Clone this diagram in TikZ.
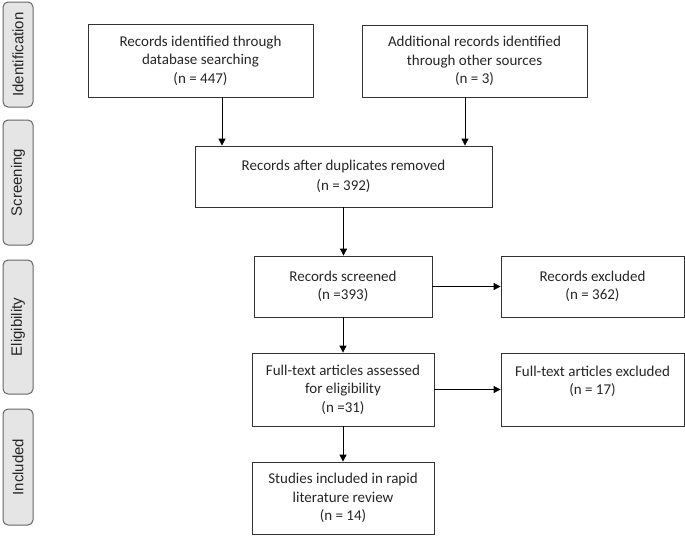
\documentclass[tikz,border=0pt]{standalone}
\usepackage{fontspec}
\setmainfont{Carlito}
\newfontfamily\sidefont{Liberation Sans}
\usetikzlibrary{arrows.meta}
\tikzset{
  flowbox/.style={draw=black!80, line width=0.8pt, inner sep=0pt, align=center, text=black!85,
    font=\fontsize{15}{18.5}\selectfont},
  sidebox/.style={draw=black!60, line width=1pt, fill=black!10, rounded corners=5pt, rotate=90,
    inner sep=0pt, minimum height=30pt, text=black!85, font=\sidefont\fontsize{15}{18}\selectfont},
  arr/.style={draw=black, line width=0.8pt, -{Triangle[length=7pt,width=7pt]}}
}
\begin{document}
\begin{tikzpicture}[x=1pt,y=-1pt]
\useasboundingbox (0,0) rectangle (685,536);
% phase labels
\node[sidebox, minimum width=105pt] (ident) at (18,54.5) {Identification};
\node[sidebox, minimum width=125pt] (screen) at (18,182.5) {Screening};
\node[sidebox, minimum width=134pt] (elig) at (18,327) {Eligibility};
\node[sidebox, minimum width=116pt] (incl) at (18,467) {Included};
% boxes
\node[flowbox, minimum width=225pt, minimum height=73pt] (db) at (200.5,60.5)
  {Records identified through\\database searching\\(n = 447)};
\node[flowbox, minimum width=225pt, minimum height=72pt] (other) at (474.5,61)
  {Additional records identified\\through other sources\\(n = 3)};
\node[flowbox, minimum width=297pt, minimum height=61pt] (dup) at (343.5,176.5)
  {Records after duplicates removed\\[1pt](n = 392)};
\node[flowbox, minimum width=178pt, minimum height=61pt] (scr) at (343,286.5)
  {Records screened\\(n =393)};
\node[flowbox, minimum width=183pt, minimum height=61pt] (exc1) at (592.5,286.5)
  {Records excluded\\(n = 362)};
\node[flowbox, minimum width=182pt, minimum height=73pt] (full) at (343,389.5)
  {Full-text articles assessed\\for eligibility\\(n =31)};
\node[flowbox, minimum width=183pt, minimum height=73pt] (exc2) at (592.5,389.5)
  {Full-text articles excluded\\(n = 17)\\\mbox{}};
\node[flowbox, minimum width=182pt, minimum height=72pt] (stud) at (343,498)
  {Studies included in rapid\\literature review\\(n = 14)};
% connectors
\draw[arr] ([xshift=21.5pt]db.south) -- ([xshift=21.5pt]db.south |- dup.north);
\draw[arr] ([xshift=-9.5pt]other.south) -- ([xshift=-9.5pt]other.south |- dup.north);
\draw[arr] (dup.south) -- (dup.south |- scr.north);
\draw[arr] (scr.east) -- (exc1.west);
\draw[arr] (scr.south) -- (full.north);
\draw[arr] (full.east) -- (exc2.west);
\draw[arr] (full.south) -- (stud.north);
\end{tikzpicture}
\end{document}
